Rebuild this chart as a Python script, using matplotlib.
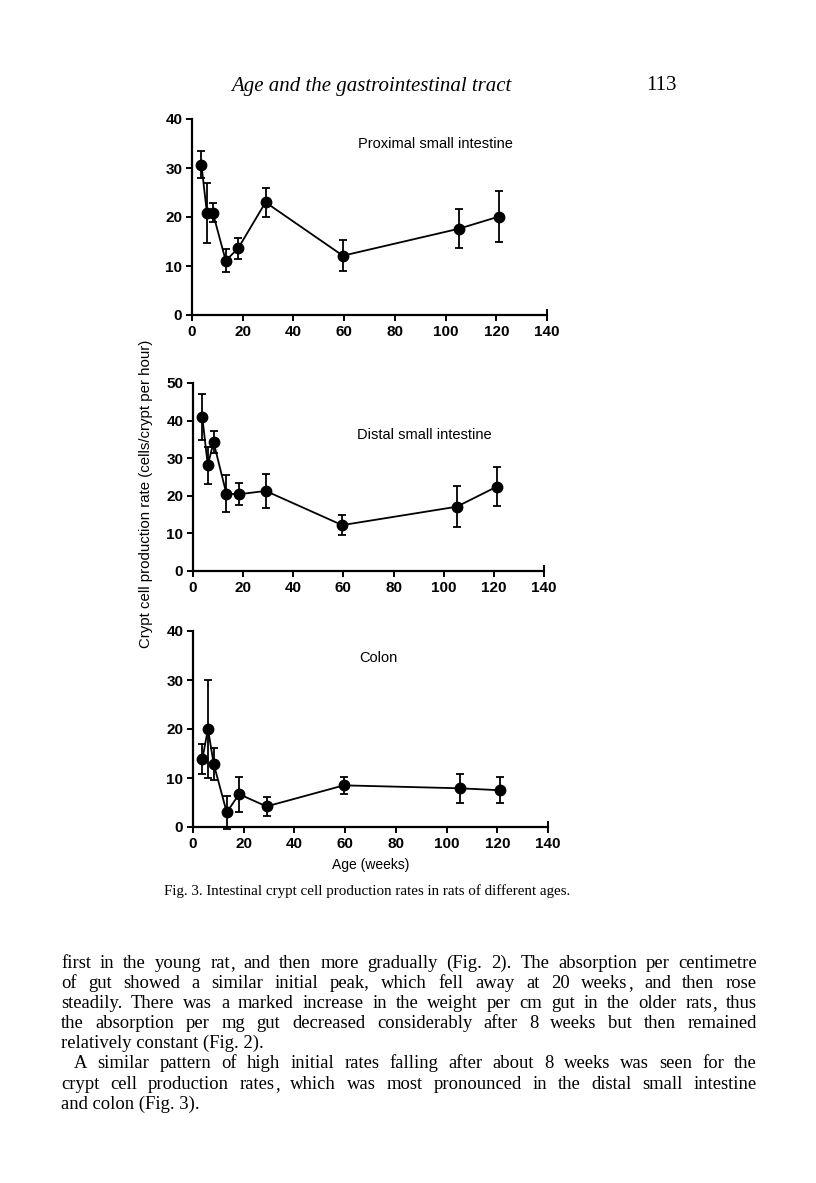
import matplotlib
matplotlib.use("Agg")
import matplotlib.pyplot as plt

# age in weeks (same for every panel)
age = [3.7, 5.9, 8.2, 13.3, 18.2, 29.0, 59.5, 105.2, 121.1]

prox_rate = [30.7, 20.8, 20.9, 11.1, 13.6, 23.0, 12.1, 17.6, 20.1]
prox_err = [2.7, 6.2, 1.9, 2.3, 2.1, 3.0, 3.2, 4.0, 5.3]

dist_rate = [41.0, 28.1, 34.3, 20.6, 20.4, 21.3, 12.2, 17.1, 22.4]
dist_err = [6.2, 5.0, 3.0, 4.8, 2.9, 4.6, 2.7, 5.4, 5.2]

colon_rate = [13.9, 20.0, 12.8, 3.0, 6.7, 4.2, 8.5, 7.9, 7.5]
colon_err = [3.1, 10.0, 3.3, 3.4, 3.6, 2.0, 1.8, 2.9, 2.7]

panel_names = ["Proximal small intestine", "Distal small intestine", "Colon"]
y_max = [40, 50, 40]
x_ticks = [0, 20, 40, 60, 80, 100, 120, 140]

W, H = 816, 1183
fig = plt.figure(figsize=(W / 100, H / 100), dpi=100)

sans = "Liberation Sans"
serif = "Liberation Serif"

# axes boxes in pixels: left, top, right, bottom
boxes = [(192, 119, 547, 315), (193, 383, 544, 571), (193, 631, 548, 827)]
title_y = [34.9, 36.2, 34.5]
series = [(prox_rate, prox_err), (dist_rate, dist_err), (colon_rate, colon_err)]

for i, (box, (rate, err)) in enumerate(zip(boxes, series)):
    l, t, r, b = box
    ax = fig.add_axes([l / W, 1 - b / H, (r - l) / W, (b - t) / H])
    ax.errorbar(age, rate, yerr=err, color="black", lw=1.3, marker="o",
                markersize=7.5, capsize=3, elinewidth=1.3, capthick=1.3, clip_on=False)
    ax.set_xlim(0, 140)
    ax.set_ylim(0, y_max[i])
    ax.set_xticks(x_ticks)
    ax.set_yticks(range(0, y_max[i] + 1, 10))
    for s in ["top", "right"]:
        ax.spines[s].set_visible(False)
    for s in ["left", "bottom"]:
        ax.spines[s].set_linewidth(1.6)
    ax.tick_params(direction="out", length=4, width=1.4, labelsize=11, pad=3)
    for lab in ax.get_xticklabels() + ax.get_yticklabels():
        lab.set_fontfamily(sans)
        lab.set_fontweight("bold")
    # closing tick at 140 points up
    ax.plot([140, 140], [0, y_max[i] * 0.025], color="black", lw=1.4, clip_on=False)
    ax.text(65.5, title_y[i], panel_names[i], fontsize=10.5, family=sans, va="center")
    if i == 2:
        ax.set_xlabel("Age (weeks)", fontsize=10, family=sans, labelpad=5)

fig.text(146 / W, 1 - 494 / H, "Crypt cell production rate (cells/crypt per hour)",
         rotation=90, ha="center", va="center", fontsize=10.8, family=sans)

# page header
fig.text(371 / W, 1 - 86 / H, "Age and the gastrointestinal tract", ha="center",
         va="center", fontsize=15, family=serif, style="italic")
fig.text(661 / W, 1 - 86 / H, "113", ha="center", va="center", fontsize=15, family=serif)

fig.text(367 / W, 1 - 891 / H,
         "Fig. 3. Intestinal crypt cell production rates in rats of different ages.",
         ha="center", va="center", fontsize=10.8, family=serif)

body = [
    ("first in the young rat, and then more gradually (Fig. 2). The absorption per centimetre", True, 0),
    ("of gut showed a similar initial peak, which fell away at 20 weeks, and then rose", True, 0),
    ("steadily. There was a marked increase in the weight per cm gut in the older rats, thus", True, 0),
    ("the absorption per mg gut decreased considerably after 8 weeks but then remained", True, 0),
    ("relatively constant (Fig. 2).", False, 0),
    ("A similar pattern of high initial rates falling after about 8 weeks was seen for the", True, 13),
    ("crypt cell production rates, which was most pronounced in the distal small intestine", True, 0),
    ("and colon (Fig. 3).", False, 0),
]

renderer = fig.canvas.get_renderer()
left_px, right_px = 61, 757
y0, dy = 968, 20.1
fs = 13.4
comma_shift = 0.2
for k, (line, justify, indent) in enumerate(body):
    y = 1 - (y0 + k * dy) / H
    if not justify:
        fig.text((left_px + indent) / W, y, line, fontsize=fs, family=serif, va="baseline")
        continue
    words = line.split(" ")
    arts, widths, commas = [], [], []
    for w in words:
        # a trailing comma is drawn on its own, so the word keeps its baseline
        core = w[:-1] if w.endswith(",") and not any(c in w for c in "gjpqy") else w
        a = fig.text(0, y, core, fontsize=fs, family=serif, va="baseline")
        core_w = a.get_window_extent(renderer).width
        c = None
        wd = core_w
        if core != w:
            c = fig.text(0, y, ",", fontsize=fs, family=serif, va="baseline")
            wd = core_w + comma_shift + c.get_window_extent(renderer).width
        arts.append((a, core_w))
        widths.append(wd)
        commas.append(c)
    gap = (right_px - left_px - indent - sum(widths)) / (len(words) - 1)
    x = left_px + indent
    for (a, core_w), c, wd in zip(arts, commas, widths):
        a.set_x(x / W)
        if c is not None:
            c.set_x((x + core_w + comma_shift) / W)
        x += wd + gap

fig.savefig("out.png", dpi=100, facecolor="white")
